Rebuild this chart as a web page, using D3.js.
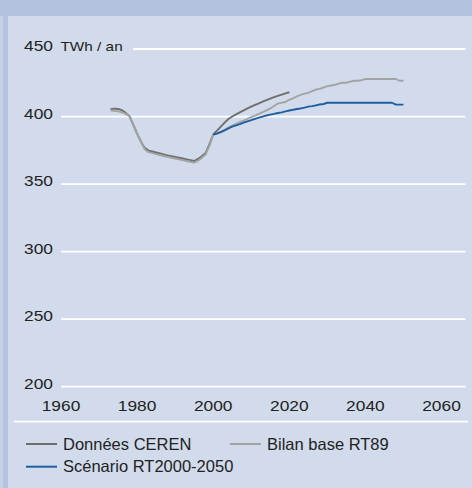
<!DOCTYPE html>
<html><head><meta charset="utf-8">
<script src="https://cdn.jsdelivr.net/npm/d3@7"></script>
<style>html,body{margin:0;padding:0;background:#b3c3de;}svg{display:block;}</style>
</head><body>
<svg id="c" width="472" height="488"></svg>
<script>
// ---- data ----
const yTicks = [200, 250, 300, 350, 400, 450];
const xTicks = [1960, 1980, 2000, 2020, 2040, 2060];
const unitLabel = "TWh / an";
const seriesNames = ["Données CEREN", "Bilan base RT89", "Scénario RT2000-2050"];

const cerenYears = [1973,1974,1975,1976,1977,1978,1979,1980,1981,1982,1983,1984,1985,1986,1987,1988,1989,1990,1991,1992,1993,1994,1995,1996,1997,1998,1999,2000,2001,2002,2003,2004,2005,2006,2007,2008,2009,2010,2011,2012,2013,2014,2015,2016,2017,2018,2019,2020];
const cerenValues = [405.5,405.9,405.6,404.7,402.7,400.3,393.9,387.4,381.4,376.8,374.8,374.1,373.4,372.7,372.0,371.3,370.7,370.1,369.5,368.9,368.3,367.7,367.1,368.6,370.6,373.0,379.4,386.7,389.6,392.6,395.5,398.2,400.0,401.6,403.1,404.6,406.0,407.3,408.6,409.8,411.0,412.2,413.3,414.3,415.3,416.2,417.1,418.0];

const bilanYears = [1973,1974,1975,1976,1977,1978,1979,1980,1981,1982,1983,1984,1985,1986,1987,1988,1989,1990,1991,1992,1993,1994,1995,1996,1997,1998,1999,2000,2001,2002,2003,2004,2005,2006,2007,2008,2009,2010,2011,2012,2013,2014,2015,2016,2017,2018,2019,2020,2021,2022,2023,2024,2025,2026,2027,2028,2029,2030,2031,2032,2033,2034,2035,2036,2037,2038,2039,2040,2041,2042,2043,2044,2045,2046,2047,2048,2049,2050];
const bilanValues = [404.6,404.3,403.8,403.1,402.0,400.2,394.0,387.6,381.2,375.8,373.6,372.9,372.2,371.5,370.8,370.1,369.5,368.9,368.3,367.7,367.1,366.5,365.9,367.3,369.4,371.9,378.3,386.5,387.6,388.8,390.2,391.8,393.3,394.6,395.8,397.0,398.2,399.5,400.6,401.9,403.2,404.6,406.0,407.8,409.6,410.3,410.8,412.4,413.5,414.9,416.0,417.0,417.5,418.9,420.0,420.5,421.5,422.5,423.0,423.5,424.4,425.0,425.0,425.8,426.5,426.5,427.0,427.8,427.8,427.8,427.8,427.8,427.8,427.8,427.8,427.8,426.5,426.5];

const rtYears = [2000,2001,2002,2003,2004,2005,2006,2007,2008,2009,2010,2011,2012,2013,2014,2015,2016,2017,2018,2019,2020,2021,2022,2023,2024,2025,2026,2027,2028,2029,2030,2031,2032,2033,2034,2035,2036,2037,2038,2039,2040,2041,2042,2043,2044,2045,2046,2047,2048,2049,2050];
const rtValues = [386.7,387.4,388.5,389.8,391.2,392.5,393.4,394.4,395.5,396.4,397.3,398.3,399.2,400.0,400.8,401.4,402.0,402.6,403.1,403.8,404.5,405.0,405.6,406.0,406.6,407.3,407.7,408.3,408.9,409.3,410.2,410.2,410.2,410.2,410.2,410.2,410.2,410.2,410.2,410.2,410.2,410.2,410.2,410.2,410.2,410.2,410.2,410.2,408.8,408.8,408.8];

const colors = ["#6e6e6e", "#a3a3a3", "#1f5f9f"];

// ---- drawing ----
const svg = d3.select("#c");
svg.append("rect").attr("x",0).attr("y",0).attr("width",472).attr("height",488).attr("fill","#b3c3de");
svg.append("rect").attr("x",0).attr("y",16).attr("width",3).attr("height",472).attr("fill","#c6d1e5");
svg.append("rect").attr("x",8).attr("y",16).attr("width",464).attr("height",472).attr("fill","#d1dbeb");

const x = d3.scaleLinear().domain([1960, 2060]).range([61, 441.5]);
const y = d3.scaleLinear().domain([200, 450]).range([386.7, 49]);

const font = "'Liberation Sans', Arial, Helvetica, sans-serif";

// gridlines
svg.append("g").selectAll("line").data(yTicks).join("line")
  .attr("x1", d => d === 450 ? 133 : 61)
  .attr("x2", 465.5)
  .attr("y1", d => y(d)).attr("y2", d => y(d))
  .attr("stroke", "#ffffff").attr("stroke-width", 1.8);

// y labels
svg.append("g").selectAll("text").data(yTicks).join("text")
  .attr("transform", d => `translate(53,${y(d) + 2.2}) scale(1.24,1)`)
  .attr("text-anchor", "end")
  .attr("font-family", font).attr("font-size", 14).attr("fill", "#222")
  .text(d => d);

svg.append("text")
  .attr("transform", `translate(60.5,${y(450) + 1.8}) scale(1.18,1)`)
  .attr("font-family", font).attr("font-size", 13).attr("fill", "#222")
  .text(unitLabel);

// x labels
svg.append("g").selectAll("text").data(xTicks).join("text")
  .attr("transform", d => `translate(${x(d)},410.7) scale(1.24,1)`)
  .attr("text-anchor", "middle")
  .attr("font-family", font).attr("font-size", 14).attr("fill", "#222")
  .text(d => d);

// separator
svg.append("line").attr("x1", 14).attr("x2", 468).attr("y1", 421.7).attr("y2", 421.7)
  .attr("stroke", "#fff").attr("stroke-width", 1.8);

// lines
const line = d3.line().x(d => x(d[0])).y(d => y(d[1]));
const series = [
  d3.zip(cerenYears, cerenValues),
  d3.zip(bilanYears, bilanValues),
  d3.zip(rtYears, rtValues)
];
svg.append("g").selectAll("path").data(series).join("path")
  .attr("d", line)
  .attr("fill", "none")
  .attr("stroke", (d, i) => colors[i])
  .attr("stroke-width", 1.9)
  .attr("stroke-linejoin", "round");

// legend
const legendPos = [[26, 444], [230, 444], [26, 466.7]];
const lg = svg.append("g").selectAll("g").data(seriesNames).join("g")
  .attr("transform", (d, i) => `translate(${legendPos[i][0]},${legendPos[i][1]})`);
lg.append("line").attr("x1", 0).attr("x2", 31).attr("y1", 0).attr("y2", 0)
  .attr("stroke", (d, i) => colors[i]).attr("stroke-width", 2);
lg.append("text").attr("x", 37).attr("y", 5.6)
  .attr("font-family", font).attr("font-size", 16.5).attr("fill", "#222")
  .text(d => d);
</script>
</body></html>
